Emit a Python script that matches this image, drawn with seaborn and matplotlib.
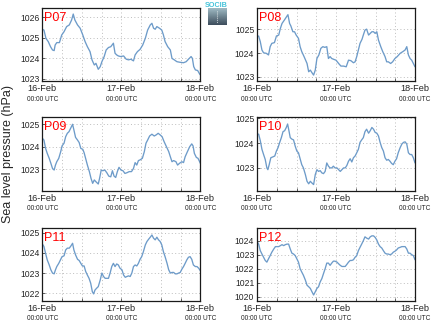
import numpy as np
import pandas as pd
import matplotlib
matplotlib.use("Agg")
import matplotlib.pyplot as plt
import matplotlib.dates as mdates
from matplotlib.ticker import MultipleLocator
import seaborn as sns

# ---------------- data (hours after 16-Feb 00:00 UTC, sea level pressure hPa) ----------------
stations = ["P07", "P08", "P09", "P10", "P11", "P12"]

hours_p07 = [0, 0.5, 1.1, 1.8, 2.5, 3.1, 3.6, 3.9, 4.4, 5.2, 5.9, 6.6, 7.4, 8.2, 8.9,
             9.4, 9.9, 10.7, 11.5, 12.3, 13.0, 13.7, 14.5, 15.1, 15.8, 16.3, 17.0, 17.6, 18.1, 18.8,
             19.4, 20.1, 20.8, 21.6, 22.1, 22.6, 23.1, 23.8, 24.7, 25.5, 26.2, 26.9, 27.7, 28.2, 28.9,
             29.7, 30.5, 31.3, 32.0, 32.8, 33.3, 33.8, 34.3, 34.8, 35.6, 36.3, 36.8, 37.3, 38.1, 38.9,
             39.4, 40.1, 40.9, 41.9, 42.9, 43.7, 44.4, 45.2, 45.6, 46.0, 46.5, 47.2, 47.8, 48.0]
slp_p07 = [1025.42, 1025.38, 1024.98, 1024.82, 1024.57, 1024.41, 1024.38, 1024.65, 1024.77, 1024.77,
           1025.14, 1025.30, 1025.55, 1025.63, 1025.87, 1026.16, 1025.87, 1025.63, 1025.47, 1025.14,
           1024.82, 1024.57, 1024.33, 1023.93, 1023.68, 1023.76, 1023.47, 1023.60, 1023.84, 1024.09,
           1024.41, 1024.53, 1024.57, 1024.74, 1024.25, 1024.17, 1024.12, 1024.09, 1024.12, 1023.96,
           1023.93, 1023.96, 1023.88, 1024.17, 1024.33, 1024.44, 1024.65, 1024.98, 1025.38, 1025.63,
           1025.71, 1025.47, 1025.42, 1025.55, 1025.47, 1025.38, 1025.14, 1024.82, 1024.57, 1024.41,
           1024.00, 1023.93, 1023.84, 1023.81, 1023.79, 1023.84, 1023.96, 1024.09, 1024.00, 1023.60,
           1023.44, 1023.41, 1023.24, 1023.20]

hours_p08 = [0, 0.5, 1.0, 1.5, 2.0, 2.8, 3.5, 4.0, 4.5, 5.3, 5.9, 6.6, 7.1, 7.6, 8.3,
             9.1, 9.4, 9.9, 10.3, 10.9, 11.4, 11.9, 12.6, 13.1, 13.6, 14.3, 15.2, 15.7, 16.2, 16.7,
             17.2, 17.7, 18.2, 18.8, 19.4, 20.0, 20.6, 21.2, 21.7, 22.2, 22.7, 23.4, 24.0, 24.8, 25.5,
             26.3, 27.1, 27.8, 28.5, 29.3, 29.8, 30.3, 30.8, 31.3, 31.9, 32.3, 32.8, 33.3, 33.9, 34.4,
             34.9, 35.4, 35.9, 36.4, 36.9, 37.6, 38.2, 38.9, 39.4, 39.9, 40.6, 41.2, 41.9, 42.6, 43.5,
             44.3, 45.0, 45.5, 46.0, 46.5, 47.0, 47.5, 48.0]
slp_p08 = [1024.69, 1024.72, 1024.48, 1024.13, 1024.01, 1023.99, 1023.92, 1024.27, 1024.41, 1024.44,
           1024.72, 1024.76, 1025.04, 1025.25, 1025.39, 1025.56, 1025.62, 1025.25, 1025.14, 1024.90,
           1024.90, 1024.76, 1024.62, 1024.27, 1024.06, 1023.85, 1023.56, 1023.21, 1023.28, 1023.17,
           1023.07, 1023.28, 1023.77, 1023.92, 1024.20, 1024.27, 1024.24, 1024.27, 1023.77, 1023.85,
           1023.77, 1023.73, 1023.70, 1023.56, 1023.45, 1023.45, 1023.42, 1023.70, 1023.68, 1023.59,
           1023.63, 1023.85, 1024.13, 1024.41, 1024.58, 1024.76, 1024.97, 1025.01, 1024.76, 1024.83,
           1024.90, 1024.90, 1024.83, 1024.90, 1024.55, 1024.27, 1024.06, 1023.85, 1023.63, 1023.63,
           1023.56, 1023.63, 1023.77, 1023.85, 1023.99, 1024.06, 1024.13, 1024.27, 1023.92, 1023.77,
           1023.70, 1023.56, 1023.42]

hours_p09 = [0, 0.5, 1.0, 1.5, 2.1, 2.6, 3.1, 3.6, 4.0, 4.4, 5.0, 5.6, 6.0, 6.6, 7.1,
             7.6, 8.1, 8.6, 9.2, 9.6, 10.1, 10.7, 11.2, 11.7, 12.3, 12.7, 13.3, 13.7, 14.3, 14.8,
             15.3, 15.8, 16.3, 17.0, 17.4, 17.9, 18.4, 19.0, 19.6, 20.2, 20.8, 21.3, 21.8, 22.3, 22.8,
             23.3, 23.9, 24.5, 25.1, 25.7, 26.4, 27.1, 27.7, 28.2, 28.7, 29.2, 29.7, 30.4, 31.0, 31.5,
             32.0, 32.6, 33.3, 34.0, 34.6, 35.2, 35.8, 36.4, 37.0, 37.7, 38.4, 38.9, 39.4, 39.9, 40.6,
             41.1, 41.7, 42.4, 42.9, 43.4, 44.1, 44.8, 45.4, 45.8, 46.2, 46.8, 47.3, 47.8, 48.0]
slp_p09 = [1024.38, 1024.30, 1023.93, 1023.71, 1023.49, 1023.27, 1023.04, 1022.97, 1023.19, 1023.34,
           1023.49, 1023.79, 1024.04, 1024.16, 1024.45, 1024.60, 1024.67, 1024.82, 1025.00, 1024.75,
           1024.42, 1024.30, 1024.19, 1023.93, 1023.89, 1023.74, 1023.41, 1023.19, 1022.90, 1022.60,
           1022.38, 1022.53, 1022.45, 1022.35, 1022.60, 1022.97, 1022.94, 1022.97, 1022.85, 1022.70,
           1022.67, 1022.94, 1022.70, 1022.64, 1022.90, 1023.09, 1022.97, 1022.94, 1022.82, 1022.85,
           1022.90, 1022.90, 1023.04, 1023.30, 1023.19, 1023.39, 1023.42, 1023.49, 1023.79, 1024.16,
           1024.30, 1024.48, 1024.56, 1024.48, 1024.53, 1024.60, 1024.53, 1024.45, 1024.23, 1024.01,
           1023.79, 1023.56, 1023.34, 1023.39, 1023.34, 1023.19, 1023.27, 1023.34, 1023.30, 1023.56,
           1023.79, 1024.01, 1024.13, 1024.04, 1023.71, 1023.53, 1023.49, 1023.34, 1023.27]

hours_p10 = [0, 0.5, 1.0, 1.5, 2.0, 2.5, 3.0, 3.3, 3.7, 4.2, 4.9, 5.4, 5.9, 6.4, 6.9,
             7.4, 7.9, 8.4, 8.9, 9.3, 9.7, 10.1, 10.6, 11.1, 11.6, 12.1, 12.6, 13.1, 13.6, 14.1,
             14.7, 15.2, 15.7, 16.2, 16.7, 17.2, 17.7, 18.2, 18.7, 19.2, 19.7, 20.2, 20.7, 21.2, 21.7,
             22.2, 22.7, 23.2, 23.7, 24.3, 24.8, 25.3, 25.8, 26.3, 26.8, 27.3, 27.8, 28.3, 28.8, 29.3,
             29.8, 30.3, 30.8, 31.3, 31.8, 32.3, 32.8, 33.3, 33.9, 34.4, 34.9, 35.4, 35.9, 36.4, 36.9,
             37.4, 37.9, 38.4, 38.9, 39.4, 39.9, 40.4, 40.9, 41.4, 41.9, 42.4, 42.9, 43.5, 44.0, 44.5,
             45.0, 45.5, 46.0, 46.5, 47.0, 47.5, 48.0]
slp_p10 = [1024.36, 1024.36, 1024.10, 1023.75, 1023.54, 1023.34, 1023.00, 1022.93, 1023.13, 1023.41,
           1023.45, 1023.48, 1023.68, 1023.82, 1024.03, 1024.22, 1024.46, 1024.50, 1024.63, 1024.77,
           1024.50, 1024.22, 1024.16, 1024.13, 1023.88, 1023.68, 1023.61, 1023.37, 1023.13, 1023.00,
           1022.73, 1022.46, 1022.36, 1022.46, 1022.39, 1022.33, 1022.73, 1022.93, 1022.86, 1022.89,
           1022.80, 1022.77, 1022.86, 1023.20, 1023.07, 1023.00, 1023.00, 1023.07, 1023.00, 1023.00,
           1022.93, 1022.86, 1022.93, 1023.00, 1023.00, 1023.10, 1023.27, 1023.37, 1023.24, 1023.41,
           1023.48, 1023.61, 1023.75, 1024.03, 1024.13, 1024.22, 1024.46, 1024.56, 1024.40, 1024.50,
           1024.63, 1024.56, 1024.43, 1024.40, 1024.29, 1024.03, 1023.82, 1023.68, 1023.41, 1023.31,
           1023.34, 1023.27, 1023.18, 1023.13, 1023.27, 1023.37, 1023.61, 1023.82, 1023.96, 1024.03,
           1024.05, 1023.96, 1023.61, 1023.54, 1023.54, 1023.41, 1023.20]

hours_p11 = [0, 0.5, 1.0, 1.5, 2.1, 2.6, 3.1, 3.6, 4.0, 4.4, 5.0, 5.6, 6.0, 6.6, 7.1,
             7.6, 8.2, 8.7, 9.2, 9.6, 10.1, 10.7, 11.2, 11.7, 12.2, 12.7, 13.2, 13.7, 14.2, 14.7,
             15.2, 15.6, 16.0, 16.5, 17.0, 17.6, 18.1, 18.6, 19.1, 19.6, 20.1, 20.6, 21.1, 21.6, 22.1,
             22.6, 23.1, 23.6, 24.2, 24.7, 25.2, 25.7, 26.2, 26.7, 27.2, 27.7, 28.2, 28.7, 29.2, 29.7,
             30.2, 30.7, 31.3, 31.8, 32.3, 32.8, 33.3, 33.8, 34.3, 34.8, 35.3, 35.8, 36.3, 36.8, 37.3,
             37.9, 38.4, 38.9, 39.4, 39.9, 40.4, 40.9, 41.4, 41.9, 42.4, 42.9, 43.4, 43.9, 44.4, 44.9,
             45.4, 45.9, 46.5, 47.0, 47.5, 48.0]
slp_p11 = [1024.44, 1024.31, 1023.97, 1023.65, 1023.40, 1023.16, 1023.00, 1022.96, 1023.16, 1023.32,
           1023.48, 1023.68, 1023.81, 1023.85, 1024.14, 1024.23, 1024.23, 1024.34, 1024.47, 1024.14,
           1023.90, 1023.68, 1023.62, 1023.48, 1023.35, 1023.35, 1023.07, 1022.90, 1022.74, 1022.50,
           1022.08, 1021.97, 1022.16, 1022.25, 1022.33, 1022.66, 1023.00, 1022.83, 1022.74, 1022.74,
           1022.74, 1023.00, 1023.32, 1023.48, 1023.32, 1023.45, 1023.40, 1023.24, 1023.16, 1022.90,
           1022.79, 1022.83, 1022.86, 1022.83, 1023.00, 1023.32, 1023.40, 1023.35, 1023.48, 1023.68,
           1023.81, 1024.05, 1024.39, 1024.56, 1024.67, 1024.77, 1024.88, 1024.72, 1024.64, 1024.77,
           1024.64, 1024.56, 1024.39, 1024.05, 1023.81, 1023.48, 1023.16, 1023.00, 1023.03, 1023.03,
           1022.96, 1022.96, 1023.00, 1023.03, 1023.19, 1023.32, 1023.48, 1023.65, 1023.78, 1023.81,
           1023.68, 1023.40, 1023.32, 1023.32, 1023.24, 1023.12]

hours_p12 = [0, 0.5, 1.0, 1.5, 2.0, 2.5, 3.0, 3.5, 4.0, 4.5, 5.1, 5.6, 6.1, 6.6, 7.1,
             7.6, 8.1, 8.6, 9.1, 9.6, 10.1, 10.6, 11.1, 11.6, 12.1, 12.6, 13.1, 13.6, 14.1, 14.7,
             15.2, 15.7, 16.2, 16.7, 17.2, 17.7, 18.2, 18.7, 19.2, 19.7, 20.2, 20.7, 21.2, 21.7, 22.2,
             22.7, 23.2, 23.7, 24.3, 24.8, 25.3, 25.8, 26.3, 26.8, 27.3, 27.8, 28.3, 28.8, 29.3, 29.8,
             30.3, 30.8, 31.3, 31.8, 32.3, 32.8, 33.3, 33.9, 34.4, 34.9, 35.4, 35.9, 36.4, 36.9, 37.4,
             37.9, 38.4, 38.9, 39.4, 39.9, 40.4, 40.9, 41.4, 41.9, 42.4, 42.9, 43.5, 44.0, 44.5, 45.0,
             45.5, 46.0, 46.5, 47.0, 47.5, 48.0]
slp_p12 = [1023.95, 1023.76, 1023.29, 1023.05, 1022.82, 1022.59, 1022.47, 1022.71, 1022.94, 1023.18,
           1023.41, 1023.58, 1023.58, 1023.58, 1023.65, 1023.72, 1023.65, 1023.72, 1023.76, 1023.76,
           1023.41, 1023.11, 1023.05, 1022.94, 1022.71, 1022.47, 1022.00, 1021.76, 1021.53, 1021.18,
           1020.82, 1020.71, 1020.59, 1020.35, 1020.12, 1020.35, 1020.59, 1020.71, 1021.06, 1021.29,
           1021.65, 1022.00, 1022.40, 1022.40, 1022.24, 1022.40, 1022.54, 1022.54, 1022.47, 1022.35,
           1022.24, 1022.16, 1022.16, 1022.16, 1022.31, 1022.47, 1022.59, 1022.59, 1022.64, 1022.82,
           1022.94, 1023.29, 1023.53, 1023.76, 1024.00, 1024.28, 1024.19, 1024.12, 1024.28, 1024.35,
           1024.35, 1024.24, 1024.05, 1023.76, 1023.58, 1023.48, 1023.29, 1023.11, 1023.05, 1023.05,
           1023.00, 1023.05, 1023.18, 1023.25, 1023.34, 1023.48, 1023.53, 1023.58, 1023.58, 1023.58,
           1023.41, 1023.11, 1023.11, 1023.00, 1022.94, 1022.64]

x_tick_sub = "00:00 UTC"
y_label = "Sea level pressure (hPa)"
logo_text = "SOCIB"

# ---------------- style ----------------
sns.set_style("white")
plt.rcParams["font.family"] = ["Liberation Sans", "DejaVu Sans"]

line_color = "#6d9bc9"
grid_color = "#bdbdbd"

series = [(hours_p07, slp_p07), (hours_p08, slp_p08), (hours_p09, slp_p09),
          (hours_p10, slp_p10), (hours_p11, slp_p11), (hours_p12, slp_p12)]
ylims = [(1022.9, 1026.44), (1022.82, 1025.89), (1022.04, 1025.31),
         (1022.07, 1025.04), (1021.62, 1025.21), (1019.69, 1024.89)]

W, H = 434, 327
col_left = [42.3, 257.0]
col_width = 158.0
row_top = [8.3, 117.3, 228.3]
row_height = [72.7, 73.7, 72.7]

base = pd.Timestamp("2014-02-16 00:00")
start, end = base, base + pd.Timedelta(hours=48)
day_ticks = [base + pd.Timedelta(days=d) for d in range(3)]

fig = plt.figure(figsize=(W / 100, H / 100), dpi=100)

for i, (name, (hrs, vals), lim) in enumerate(zip(stations, series, ylims)):
    r, c = divmod(i, 2)
    left = col_left[c] / W
    bottom = 1 - (row_top[r] + row_height[r]) / H
    ax = fig.add_axes([left, bottom, col_width / W, row_height[r] / H])
    df = pd.DataFrame({"time": base + pd.to_timedelta(hrs, unit="h"), "slp": vals})
    sns.lineplot(data=df, x="time", y="slp", ax=ax, color=line_color, lw=0.95)
    ax.set_xlim(start, end)
    ax.set_ylim(*lim)
    ax.set_xlabel("")
    ax.set_ylabel("")
    ax.yaxis.set_major_locator(MultipleLocator(1))
    ax.xaxis.set_major_locator(mdates.DayLocator())
    ax.xaxis.set_major_formatter(mdates.DateFormatter("%d-%b"))
    ax.xaxis.set_minor_locator(mdates.HourLocator(byhour=[6, 12, 18]))
    ax.grid(True, which="both", axis="x", ls=(0, (1, 2.5)), color=grid_color, lw=0.7)
    ax.grid(True, which="major", axis="y", ls=(0, (1, 2.5)), color=grid_color, lw=0.7)
    for sp in ax.spines.values():
        sp.set_color("#1a1a1a")
        sp.set_linewidth(0.9)
    ax.tick_params(axis="both", which="both", direction="in", bottom=True, left=True,
                   length=2, width=0.6, color="#444444")
    ax.tick_params(axis="y", labelsize=6.2, pad=2)
    ax.tick_params(axis="x", labelsize=6.6, pad=2.5)
    ax.text(0.013, 0.83, name, color="red", fontsize=9, transform=ax.transAxes, va="baseline")
    for t in day_ticks:
        ax.annotate(x_tick_sub, xy=(mdates.date2num(t), 0), xycoords=("data", "axes fraction"),
                    xytext=(0, -18), textcoords="offset pixels", ha="center", va="center",
                    fontsize=4.7, color="#222222", annotation_clip=False)

fig.text(8 / W, 1 - 154 / H, y_label, rotation=90, ha="center", va="center", fontsize=9)

# small logo at top centre
lax = fig.add_axes([207.7 / W, 1 - 25 / H, 19 / W, 16.7 / H])
grad = np.linspace(0, 1, 64).reshape(-1, 1)
cmap = matplotlib.colors.LinearSegmentedColormap.from_list("logo", ["#9fbac4", "#3d4d5c"])
lax.imshow(grad, aspect="auto", cmap=cmap, extent=(0, 1, 1, 0))
lax.plot([0.5, 0.5], [0.15, 0.9], color="white", lw=0.6, ls=(0, (1, 1.5)))
lax.set_xlim(0, 1)
lax.set_ylim(1, 0)
lax.axis("off")
fig.text(216.5 / W, 1 - 5.5 / H, logo_text, color="#45c3da", fontsize=5.2,
         ha="center", va="center", fontweight="bold")

fig.savefig("out.png", dpi=100)
